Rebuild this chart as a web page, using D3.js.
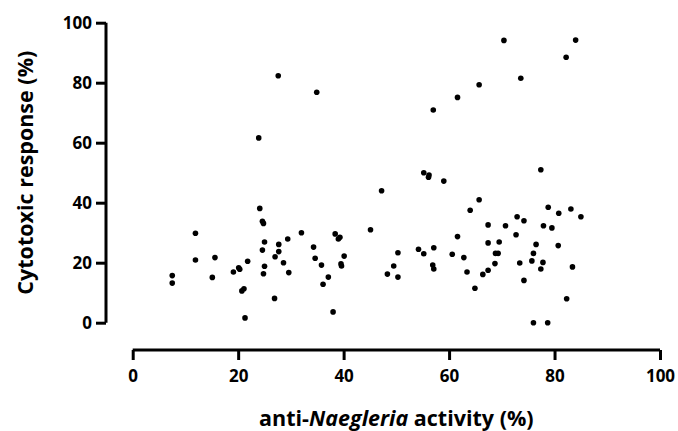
<!DOCTYPE html>
<html>
<head>
<meta charset="utf-8">
<script src="https://cdn.jsdelivr.net/npm/d3@7"></script>
<style>
  body { margin: 0; background: #fff; }
  text { font-family: "Open Sans", Lato, sans-serif; font-weight: 700; fill: #000; }
</style>
</head>
<body>
<div id="chart"></div>
<script>
// anti-Naegleria activity (%) per sample
const activity = [
    7.5, 7.5, 11.9, 11.9, 15.1, 15.6, 19.1, 20.1, 20.3, 21.8,
    20.7, 21.1, 21.3, 24.1, 24.6, 24.8, 25.0, 24.6, 25.0, 24.8,
    23.9, 27.6, 34.9, 27.7, 27.7, 27.0, 28.6, 29.6, 29.4, 26.9,
    32.0, 34.3, 34.6, 35.8, 37.1, 36.1, 38.0, 38.4, 39.0, 39.3,
    40.1, 39.5, 39.6, 45.1, 47.2, 48.3, 49.5, 50.3, 50.3, 54.2,
    55.2, 57.1, 56.9, 57.1, 55.2, 56.2, 56.1, 59.0, 57.0, 61.6,
    65.7, 70.4, 73.6, 82.2, 84.0, 77.4, 65.7, 64.0, 60.6, 61.6,
    62.8, 63.4, 64.9, 66.4, 67.4, 67.4, 67.4, 68.7, 68.8, 69.3,
    69.5, 70.7, 72.7, 72.9, 74.2, 73.4, 74.2, 75.7, 76.0, 76.5,
    76.0, 77.4, 77.8, 77.9, 79.5, 78.8, 80.8, 80.7, 78.7, 83.1,
    85.0, 83.4, 82.3
];
// cytotoxic response (%) for the same samples
const cytotoxic = [
    15.7, 13.2, 29.8, 20.9, 15.1, 21.7, 16.9, 18.3, 17.8, 20.5,
    10.6, 11.3, 1.6, 38.1, 33.8, 33.1, 26.9, 24.2, 18.8, 16.3,
    61.6, 82.3, 76.8, 26.1, 23.7, 22.0, 20.0, 16.7, 27.9, 8.1,
    30.0, 25.2, 21.5, 19.2, 15.2, 12.8, 3.6, 29.6, 27.9, 28.5,
    22.2, 19.6, 18.9, 31.0, 44.0, 16.2, 18.9, 23.3, 15.2, 24.5,
    23.0, 25.0, 19.2, 17.9, 50.0, 49.2, 48.5, 47.2, 70.9, 75.1,
    79.3, 94.1, 81.5, 88.5, 94.2, 51.0, 41.0, 37.5, 22.8, 28.7,
    21.7, 16.9, 11.5, 16.1, 17.5, 26.6, 32.6, 19.7, 23.1, 23.1,
    26.9, 32.3, 29.3, 35.3, 34.0, 19.9, 14.1, 20.6, 23.1, 26.1,
    0, 17.9, 20.1, 32.3, 31.6, 38.5, 36.5, 25.7, 0, 37.9,
    35.3, 18.6, 8.0
];
const xTicks = [0, 20, 40, 60, 80, 100];
const yTicks = [0, 20, 40, 60, 80, 100];

const width = 678;
const height = 431;

const svg = d3.select("#chart")
    .append("svg")
    .attr("width", width)
    .attr("height", height);

// Scales
const xScale = d3.scaleLinear().domain([0, 100]).range([132.7, 660]);
const yScale = d3.scaleLinear().domain([0, 100]).range([322.7, 22.7]);

// Y axis (detached from the x axis)
const yAxis = svg.append("g")
    .attr("transform", "translate(106,0)")
    .call(d3.axisLeft(yScale).tickValues(yTicks).tickSize(10).tickPadding(4));

// X axis
const xAxis = svg.append("g")
    .attr("transform", "translate(0,350)")
    .call(d3.axisBottom(xScale).tickValues(xTicks).tickSize(10).tickPadding(10));

[yAxis, xAxis].forEach(ax => {
    ax.select(".domain").attr("stroke", "#000").attr("stroke-width", 3);
    ax.selectAll(".tick line").attr("stroke", "#000").attr("stroke-width", 3);
    ax.selectAll(".tick text")
        .style("font-family", "'Open Sans', Lato, sans-serif")
        .style("font-weight", "700")
        .style("font-size", "17px")
        .attr("fill", "#000");
});

// plain domain lines, no outer end ticks
yAxis.select(".domain").attr("d", "M0," + yScale(100) + "V" + yScale(0));
xAxis.select(".domain").attr("d", "M" + xScale(0) + ",0H" + xScale(100));

// Axis titles
svg.append("text")
    .attr("transform", "translate(33," + yScale(50) + ") rotate(-90)")
    .attr("text-anchor", "middle")
    .style("font-size", "21.5px")
    .text("Cytotoxic response (%)");

const xTitle = svg.append("text")
    .attr("x", (xScale(0) + xScale(100)) / 2)
    .attr("y", 426)
    .attr("text-anchor", "middle")
    .style("font-size", "21.5px");
xTitle.append("tspan").text("anti-");
xTitle.append("tspan").style("font-style", "italic").text("Naegleria");
xTitle.append("tspan").text(" activity (%)");

// Data points
svg.selectAll("circle.dot")
    .data(activity)
    .enter().append("circle")
    .attr("class", "dot")
    .attr("cx", d => xScale(d))
    .attr("cy", (d, i) => yScale(cytotoxic[i]))
    .attr("r", 2.8)
    .attr("fill", "#000");
</script>
</body>
</html>
